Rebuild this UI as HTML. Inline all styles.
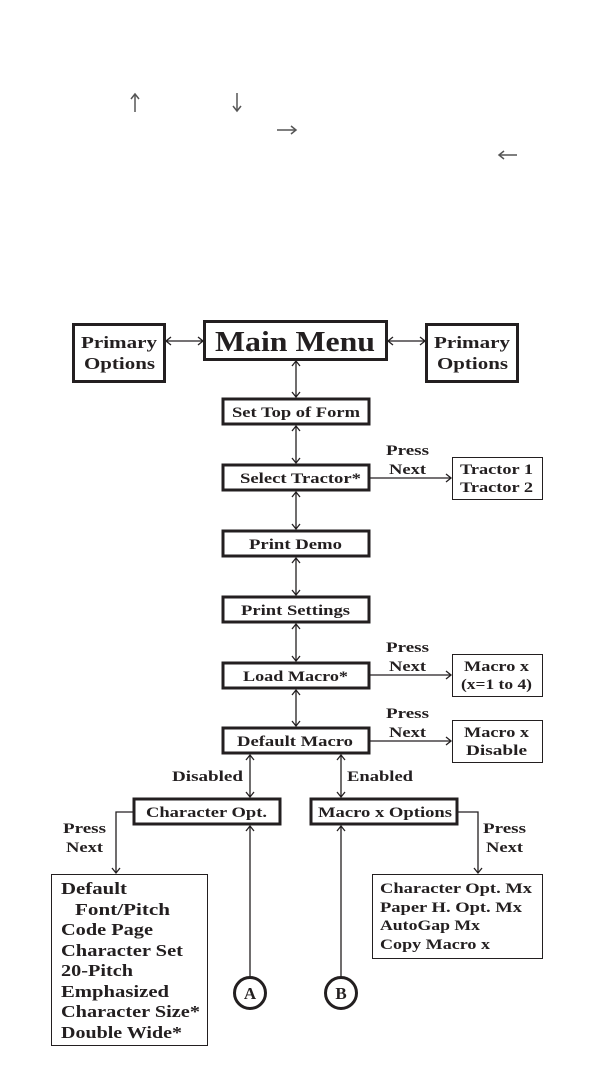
<!DOCTYPE html>
<html><head><meta charset="utf-8"><style>
html,body{margin:0;padding:0;background:#fff}
svg{display:block}
text{font-family:"Liberation Serif",serif;font-weight:bold;fill:#231f20}
</style></head><body>
<svg width="611" height="1066" viewBox="0 0 611 1066" xmlns="http://www.w3.org/2000/svg">
<g stroke="#555" stroke-width="1.5" fill="none">
<line x1="135" y1="95" x2="135" y2="112"/><polyline points="131,99 135,94 139,99"/>
<line x1="237" y1="93" x2="237" y2="110"/><polyline points="233,106 237,111 241,106"/>
<line x1="277" y1="130" x2="295" y2="130"/><polyline points="291,126 296,130 291,134"/>
<line x1="500" y1="155" x2="517" y2="155"/><polyline points="504,151 499,155 504,159"/>
</g>
<g stroke="#231f20" fill="none">
<rect x="73.5" y="324.5" width="91" height="57" stroke-width="3"/>
<rect x="204.5" y="321.5" width="182" height="38" stroke-width="3"/>
<rect x="426.5" y="324.5" width="91" height="57" stroke-width="3"/>
<rect x="223" y="399" width="146" height="25" stroke-width="3"/>
<rect x="223" y="465" width="146" height="25" stroke-width="3"/>
<rect x="223" y="531" width="146" height="25" stroke-width="3"/>
<rect x="223" y="597" width="146" height="25" stroke-width="3"/>
<rect x="223" y="663" width="146" height="25" stroke-width="3"/>
<rect x="223" y="728" width="146" height="25" stroke-width="3"/>
<rect x="134" y="799" width="146" height="25" stroke-width="3"/>
<rect x="311" y="799" width="146" height="25" stroke-width="3"/>
<rect x="452.5" y="457.5" width="90" height="42" stroke-width="1"/>
<rect x="452.5" y="654.5" width="90" height="42" stroke-width="1"/>
<rect x="452.5" y="720.5" width="90" height="42" stroke-width="1"/>
<rect x="51.5" y="874.5" width="156" height="171" stroke-width="1"/>
<rect x="372.5" y="874.5" width="170" height="84" stroke-width="1"/>
<circle cx="250" cy="993" r="15.5" stroke-width="3"/>
<circle cx="341" cy="993" r="15.5" stroke-width="3"/>
<g stroke-width="1.3">
<line x1="166" y1="341" x2="203" y2="341"/><polyline points="171,337 166,341 171,345"/><polyline points="198,337 203,341 198,345"/>
<line x1="388" y1="341" x2="425" y2="341"/><polyline points="393,337 388,341 393,345"/><polyline points="420,337 425,341 420,345"/>
<line x1="296" y1="361" x2="296" y2="397"/><polyline points="292,366 296,361 300,366"/><polyline points="292,392 296,397 300,392"/>
<line x1="296" y1="426" x2="296" y2="463"/><polyline points="292,431 296,426 300,431"/><polyline points="292,458 296,463 300,458"/>
<line x1="296" y1="492" x2="296" y2="529"/><polyline points="292,497 296,492 300,497"/><polyline points="292,524 296,529 300,524"/>
<line x1="296" y1="558" x2="296" y2="595"/><polyline points="292,563 296,558 300,563"/><polyline points="292,590 296,595 300,590"/>
<line x1="296" y1="624" x2="296" y2="661"/><polyline points="292,629 296,624 300,629"/><polyline points="292,656 296,661 300,656"/>
<line x1="296" y1="690" x2="296" y2="726"/><polyline points="292,695 296,690 300,695"/><polyline points="292,721 296,726 300,721"/>
<line x1="250" y1="755" x2="250" y2="797"/><polyline points="246,760 250,755 254,760"/><polyline points="246,792 250,797 254,792"/>
<line x1="341" y1="755" x2="341" y2="797"/><polyline points="337,760 341,755 345,760"/><polyline points="337,792 341,797 345,792"/>
<line x1="250" y1="826" x2="250" y2="977"/><polyline points="246,831 250,826 254,831"/>
<line x1="341" y1="826" x2="341" y2="977"/><polyline points="337,831 341,826 345,831"/>
<line x1="370" y1="478" x2="451" y2="478"/><polyline points="446,474 451,478 446,482"/>
<line x1="370" y1="675" x2="451" y2="675"/><polyline points="446,671 451,675 446,679"/>
<line x1="370" y1="741" x2="451" y2="741"/><polyline points="446,737 451,741 446,745"/>
<polyline points="133,812 116,812 116,873"/><polyline points="112,868 116,873 120,868"/>
<polyline points="458,812 478,812 478,873"/><polyline points="474,868 478,873 482,868"/>
</g>
</g>
<g lengthAdjust="spacingAndGlyphs">
<text x="81" y="348" font-size="17" textLength="76" lengthAdjust="spacingAndGlyphs">Primary</text>
<text x="84" y="369" font-size="17" textLength="71" lengthAdjust="spacingAndGlyphs">Options</text>
<text x="215" y="351" font-size="29" textLength="160" lengthAdjust="spacingAndGlyphs">Main Menu</text>
<text x="434" y="348" font-size="17" textLength="76" lengthAdjust="spacingAndGlyphs">Primary</text>
<text x="437" y="369" font-size="17" textLength="71" lengthAdjust="spacingAndGlyphs">Options</text>
<text x="232" y="417" font-size="15" textLength="128" lengthAdjust="spacingAndGlyphs">Set Top of Form</text>
<text x="240" y="483" font-size="15" textLength="121" lengthAdjust="spacingAndGlyphs">Select Tractor*</text>
<text x="249" y="549" font-size="15" textLength="93" lengthAdjust="spacingAndGlyphs">Print Demo</text>
<text x="241" y="615" font-size="15" textLength="109" lengthAdjust="spacingAndGlyphs">Print Settings</text>
<text x="243" y="681" font-size="15" textLength="105" lengthAdjust="spacingAndGlyphs">Load Macro*</text>
<text x="237" y="746" font-size="15" textLength="116" lengthAdjust="spacingAndGlyphs">Default Macro</text>
<text x="146" y="817" font-size="15" textLength="121" lengthAdjust="spacingAndGlyphs">Character Opt.</text>
<text x="318" y="817" font-size="15" textLength="134" lengthAdjust="spacingAndGlyphs">Macro x Options</text>
<text x="460" y="474" font-size="15" textLength="73" lengthAdjust="spacingAndGlyphs">Tractor 1</text>
<text x="460" y="492" font-size="15" textLength="73" lengthAdjust="spacingAndGlyphs">Tractor 2</text>
<text x="464" y="671" font-size="15" textLength="65" lengthAdjust="spacingAndGlyphs">Macro x</text>
<text x="461" y="689" font-size="15" textLength="71" lengthAdjust="spacingAndGlyphs">(x=1 to 4)</text>
<text x="464" y="737" font-size="15" textLength="65" lengthAdjust="spacingAndGlyphs">Macro x</text>
<text x="466" y="755" font-size="15" textLength="61" lengthAdjust="spacingAndGlyphs">Disable</text>
<text x="386" y="455" font-size="15" textLength="43" lengthAdjust="spacingAndGlyphs">Press</text>
<text x="389" y="474" font-size="15" textLength="37" lengthAdjust="spacingAndGlyphs">Next</text>
<text x="386" y="652" font-size="15" textLength="43" lengthAdjust="spacingAndGlyphs">Press</text>
<text x="389" y="671" font-size="15" textLength="37" lengthAdjust="spacingAndGlyphs">Next</text>
<text x="386" y="718" font-size="15" textLength="43" lengthAdjust="spacingAndGlyphs">Press</text>
<text x="389" y="737" font-size="15" textLength="37" lengthAdjust="spacingAndGlyphs">Next</text>
<text x="63" y="833" font-size="15" textLength="43" lengthAdjust="spacingAndGlyphs">Press</text>
<text x="66" y="852" font-size="15" textLength="37" lengthAdjust="spacingAndGlyphs">Next</text>
<text x="483" y="833" font-size="15" textLength="43" lengthAdjust="spacingAndGlyphs">Press</text>
<text x="486" y="852" font-size="15" textLength="37" lengthAdjust="spacingAndGlyphs">Next</text>
<text x="172" y="781" font-size="15" textLength="71" lengthAdjust="spacingAndGlyphs">Disabled</text>
<text x="347" y="781" font-size="15" textLength="66" lengthAdjust="spacingAndGlyphs">Enabled</text>
<text x="250" y="999" font-size="17" text-anchor="middle">A</text>
<text x="341" y="999" font-size="17" text-anchor="middle">B</text>
<text x="61" y="894" font-size="17" textLength="66" lengthAdjust="spacingAndGlyphs">Default</text>
<text x="75" y="915" font-size="17" textLength="95" lengthAdjust="spacingAndGlyphs">Font/Pitch</text>
<text x="61" y="935" font-size="17" textLength="92" lengthAdjust="spacingAndGlyphs">Code Page</text>
<text x="61" y="956" font-size="17" textLength="122" lengthAdjust="spacingAndGlyphs">Character Set</text>
<text x="61" y="976" font-size="17" textLength="72" lengthAdjust="spacingAndGlyphs">20-Pitch</text>
<text x="61" y="997" font-size="17" textLength="108" lengthAdjust="spacingAndGlyphs">Emphasized</text>
<text x="61" y="1017" font-size="17" textLength="139" lengthAdjust="spacingAndGlyphs">Character Size*</text>
<text x="61" y="1038" font-size="17" textLength="121" lengthAdjust="spacingAndGlyphs">Double Wide*</text>
<text x="380" y="893" font-size="15" textLength="152" lengthAdjust="spacingAndGlyphs">Character Opt. Mx</text>
<text x="380" y="912" font-size="15" textLength="142" lengthAdjust="spacingAndGlyphs">Paper H. Opt. Mx</text>
<text x="380" y="930" font-size="15" textLength="100" lengthAdjust="spacingAndGlyphs">AutoGap Mx</text>
<text x="380" y="949" font-size="15" textLength="110" lengthAdjust="spacingAndGlyphs">Copy Macro x</text>
</g>
</svg>
</body></html>
